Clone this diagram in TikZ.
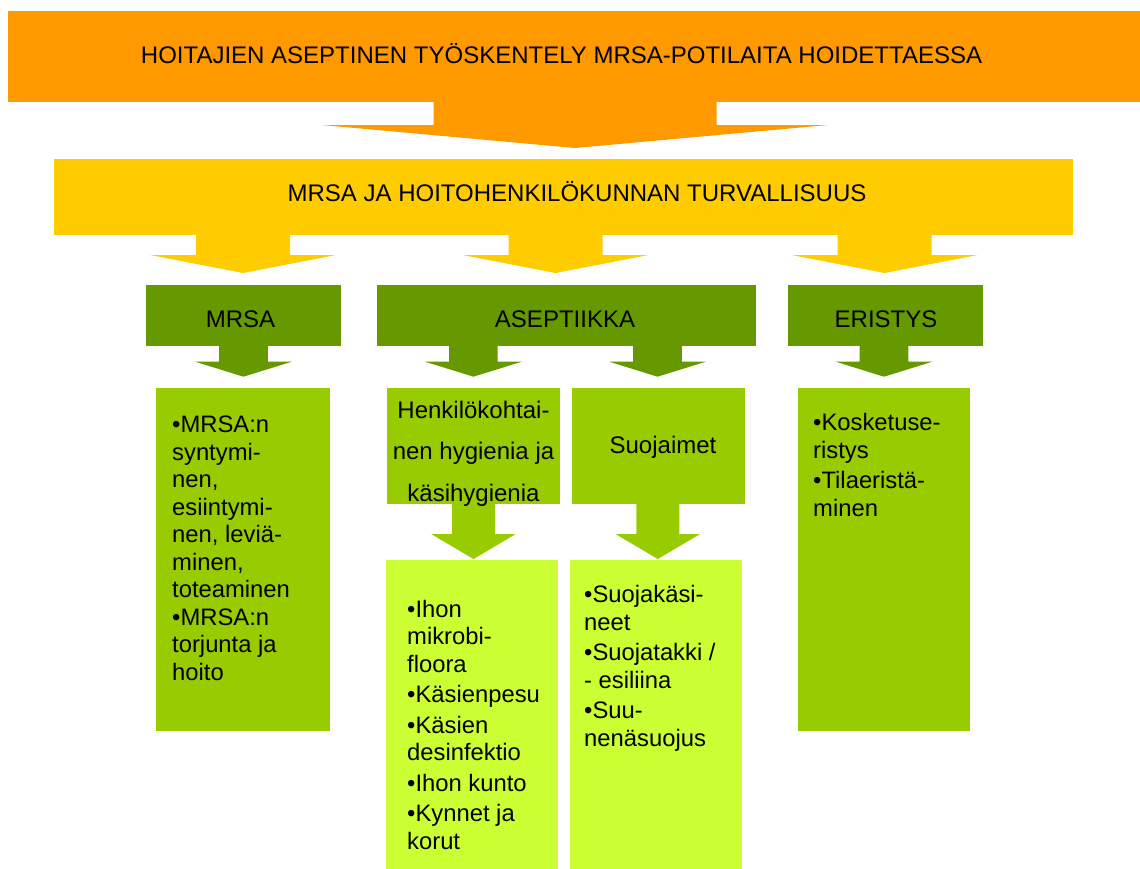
\documentclass[tikz,border=0pt]{standalone}
\usepackage{fontspec}
\setmainfont{Liberation Sans}
\usetikzlibrary{positioning}

\definecolor{titleorange}{HTML}{FF9900}
\definecolor{bandyellow}{HTML}{FFCC00}
\definecolor{darkgreen}{HTML}{669900}
\definecolor{midgreen}{HTML}{99CC00}
\definecolor{limegreen}{HTML}{CCFF33}

% colour, x, top, neck, tip, shaft half width, head half width
\newcommand{\blockarrow}[7]{%
  \fill[#1] (#2-#6,#3) -- (#2+#6,#3) -- (#2+#6,#4) -- (#2+#7,#4) -- (#2,#5)
    -- (#2-#7,#4) -- (#2-#6,#4) -- cycle;}

\begin{document}
\begin{tikzpicture}[x=1pt, y=-1pt,
    box/.style={rectangle, inner sep=0pt, anchor=north west},
    headtext/.style={font=\fontsize{24}{28}\selectfont, inner sep=0pt, anchor=base},
    listtext/.style={font=\fontsize{23.8}{27.5}\selectfont, align=left, inner sep=0pt, anchor=base west}]
    \useasboundingbox (0,0) rectangle (1140,868);

    \node (top) [box, fill=titleorange, minimum width=1140, minimum height=91] at (8,11) {};
    \node (band) [box, fill=bandyellow, minimum width=1019, minimum height=76] at (54,159) {};
    \node (mrsahead) [box, fill=darkgreen, minimum width=195, minimum height=61] at (146,285) {};
    \node (asephead) [box, fill=darkgreen, minimum width=379, minimum height=61, right=35 of mrsahead] {};
    \node (erishead) [box, fill=darkgreen, minimum width=195, minimum height=61, right=32 of asephead] {};
    \node (mrsabox) [box, fill=midgreen, minimum width=174, minimum height=343] at (156,388) {};
    \node (hygbox) [box, fill=midgreen, minimum width=173, minimum height=116] at (387,388) {};
    \node (suojbox) [box, fill=midgreen, minimum width=173, minimum height=116, right=11 of hygbox] {};
    \node (erisbox) [box, fill=midgreen, minimum width=172, minimum height=343] at (798,388) {};
    \node (hyglist) [box, fill=limegreen, minimum width=172, minimum height=310] at (386,560) {};
    \node (suojlist) [box, fill=limegreen, minimum width=172, minimum height=310, right=11 of hyglist] {};

    \blockarrow{titleorange}{575}{101}{125}{148}{141.5}{253}
    \blockarrow{bandyellow}{243}{234}{255}{273}{47}{93}
    \blockarrow{bandyellow}{555.5}{234}{255}{273}{47}{93}
    \blockarrow{bandyellow}{884.5}{234}{255}{273}{47}{93}
    \blockarrow{darkgreen}{243.5}{345}{361.7}{376.7}{24.3}{48.3}
    \blockarrow{darkgreen}{473.4}{345}{361.7}{376.7}{24.3}{48.3}
    \blockarrow{darkgreen}{657.5}{345}{361.7}{376.7}{24.3}{48.3}
    \blockarrow{darkgreen}{884}{345}{361.7}{376.7}{24.3}{48.3}
    \blockarrow{midgreen}{473.5}{503}{534}{559}{21.5}{42.3}
    \blockarrow{midgreen}{657.8}{503}{534}{559}{21.5}{42.3}

    % multi-line nodes sit on the baseline of their last line
    \node (toptext) [headtext] at (561.5,63) {HOITAJIEN ASEPTINEN TYÖSKENTELY MRSA-POTILAITA HOIDETTAESSA};
    \node (bandtext) [headtext] at (577,201) {MRSA JA HOITOHENKILÖKUNNAN TURVALLISUUS};
    \node (mrsatext) [headtext] at (240.5,327) {MRSA};
    \node (aseptext) [headtext] at (565,327) {ASEPTIIKKA};
    \node (eristext) [headtext] at (886,327) {ERISTYS};
    \node (hygtext) [headtext, align=center, font=\fontsize{24}{41.5}\selectfont] at (473.5,501)
        {Henkilökohtai-\\nen hygienia ja\\käsihygienia};
    \node (suojtext) [headtext] at (663,453) {Suojaimet};

    \node (mrsaitems) [listtext] at (172,680)
        {•MRSA:n\\syntymi-\\nen,\\esiintymi-\\nen, leviä-\\minen,\\toteaminen\\•MRSA:n\\torjunta ja\\hoito};
    \node (hygitems) [listtext] at (407,849)
        {•Ihon\\mikrobi-\\floora\\[3pt]•Käsienpesu\\[3pt]•Käsien\\desinfektio\\[3pt]•Ihon kunto\\[3pt]•Kynnet ja\\korut};
    \node (suojitems) [listtext] at (584,746)
        {•Suojakäsi-\\neet\\[3pt]•Suojatakki /\\- esiliina\\[3pt]•Suu-\\nenäsuojus};
    \node (erisitems) [listtext] at (813,516)
        {•Kosketuse-\\ristys\\[3pt]•Tilaeristä-\\minen};
\end{tikzpicture}
\end{document}
